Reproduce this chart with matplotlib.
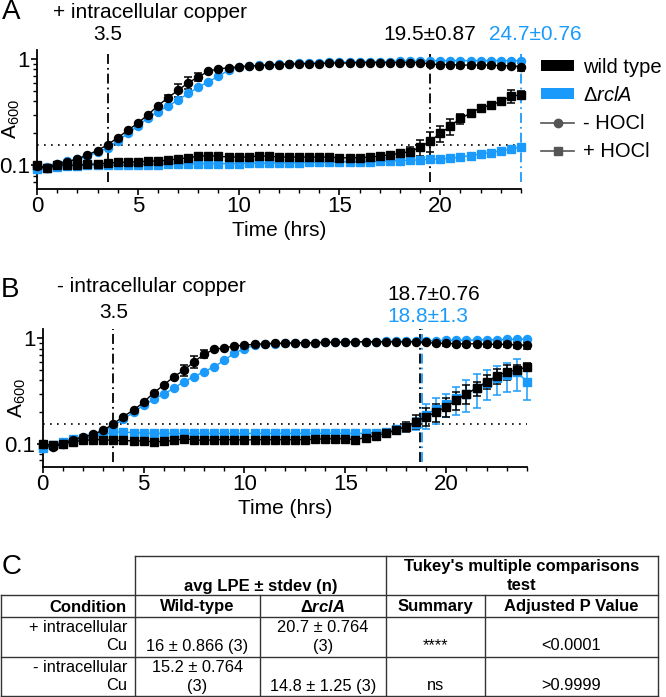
import numpy as np
import matplotlib
matplotlib.use('Agg')
import matplotlib.pyplot as plt
from matplotlib.patches import Patch
from matplotlib.lines import Line2D
from matplotlib.ticker import FixedLocator, FixedFormatter, NullFormatter
import matplotlib.transforms as mtransforms

plt.rcParams['font.family'] = ['Liberation Sans', 'DejaVu Sans']
plt.rcParams['mathtext.fontset'] = 'custom'
plt.rcParams['mathtext.rm'] = 'Liberation Sans'
plt.rcParams['mathtext.it'] = 'Liberation Sans:italic'
plt.rcParams['mathtext.bf'] = 'Liberation Sans:bold'
plt.rcParams['mathtext.bfit'] = 'Liberation Sans:bold:italic'

# ---------------- data ----------------
time_hrs = [0, 0.5, 1, 1.5, 2, 2.5, 3, 3.5, 4, 4.5,
            5, 5.5, 6, 6.5, 7, 7.5, 8, 8.5, 9, 9.5,
            10, 10.5, 11, 11.5, 12, 12.5, 13, 13.5, 14, 14.5,
            15, 15.5, 16, 16.5, 17, 17.5, 18, 18.5, 19, 19.5,
            20, 20.5, 21, 21.5, 22, 22.5, 23, 23.5, 24]

# Panel A: + intracellular copper
a_wt_neg = [0.098, 0.095, 0.103, 0.108, 0.115, 0.126, 0.138, 0.157, 0.182, 0.214,
            0.25, 0.30, 0.365, 0.435, 0.51, 0.60, 0.68, 0.77, 0.81, 0.83,
            0.85, 0.86, 0.87, 0.88, 0.89, 0.90, 0.90, 0.91, 0.91, 0.92,
            0.92, 0.92, 0.93, 0.93, 0.93, 0.93, 0.93, 0.93, 0.93, 0.90,
            0.89, 0.89, 0.88, 0.88, 0.88, 0.88, 0.87, 0.87, 0.85]
a_wt_neg_err = [0, 0, 0, 0, 0, 0, 0, 0, 0, 0,
                0, 0, 0, 0.03, 0.07, 0.08, 0.06, 0, 0, 0,
                0, 0, 0, 0, 0, 0, 0, 0, 0, 0,
                0, 0, 0, 0, 0, 0, 0, 0, 0, 0.04,
                0.05, 0.05, 0.05, 0.05, 0.05, 0.05, 0.05, 0.05, 0.08]
a_rcl_neg = [0.093, 0.097, 0.104, 0.109, 0.114, 0.122, 0.133, 0.146, 0.17, 0.2,
             0.235, 0.28, 0.32, 0.363, 0.413, 0.477, 0.545, 0.615, 0.69, 0.79,
             0.84, 0.86, 0.88, 0.89, 0.90, 0.91, 0.92, 0.93, 0.93, 0.94,
             0.94, 0.94, 0.95, 0.95, 0.95, 0.95, 0.96, 0.96, 0.96, 0.97,
             0.97, 0.97, 0.97, 0.97, 0.97, 0.97, 0.97, 0.97, 0.97]
a_rcl_neg_err = [0] * 49
a_wt_pos = [0.1, 0.095, 0.1, 0.102, 0.1, 0.103, 0.103, 0.105, 0.107, 0.107,
            0.108, 0.11, 0.11, 0.112, 0.115, 0.118, 0.122, 0.124, 0.122, 0.12,
            0.12, 0.12, 0.123, 0.122, 0.12, 0.12, 0.12, 0.12, 0.12, 0.12,
            0.118, 0.118, 0.118, 0.12, 0.122, 0.126, 0.13, 0.135, 0.148, 0.17,
            0.2, 0.235, 0.277, 0.31, 0.35, 0.37, 0.40, 0.45, 0.46]
a_wt_pos_err = [0, 0, 0, 0, 0, 0, 0, 0, 0, 0,
                0, 0, 0, 0, 0, 0, 0, 0, 0, 0,
                0, 0, 0, 0, 0, 0, 0, 0, 0, 0,
                0, 0, 0, 0, 0, 0, 0.01, 0.015, 0.025, 0.035,
                0.035, 0.04, 0.03, 0.02, 0.015, 0.015, 0.02, 0.06, 0.04]
a_rcl_pos = [0.093, 0.095, 0.097, 0.098, 0.099, 0.1, 0.1, 0.1, 0.101, 0.101,
             0.102, 0.102, 0.102, 0.103, 0.103, 0.103, 0.104, 0.104, 0.104, 0.104,
             0.104, 0.105, 0.105, 0.105, 0.106, 0.106, 0.106, 0.107, 0.107, 0.107,
             0.108, 0.108, 0.108, 0.108, 0.109, 0.11, 0.111, 0.112, 0.113, 0.114,
             0.115, 0.117, 0.12, 0.124, 0.128, 0.132, 0.137, 0.142, 0.15]
a_rcl_pos_err = [0] * 49

# Panel B: - intracellular copper
b_wt_neg = [0.1, 0.093, 0.1, 0.11, 0.116, 0.124, 0.135, 0.155, 0.182, 0.21,
            0.248, 0.306, 0.362, 0.434, 0.50, 0.60, 0.71, 0.787, 0.816, 0.846,
            0.865, 0.88, 0.89, 0.9, 0.9, 0.91, 0.91, 0.91, 0.92, 0.92,
            0.92, 0.93, 0.93, 0.93, 0.93, 0.93, 0.93, 0.93, 0.92, 0.9,
            0.9, 0.89, 0.89, 0.89, 0.88, 0.88, 0.88, 0.87, 0.86]
b_wt_neg_err = [0, 0, 0, 0, 0, 0, 0, 0, 0, 0,
                0, 0, 0, 0, 0.06, 0.08, 0.06, 0, 0, 0,
                0, 0, 0, 0, 0, 0, 0, 0, 0, 0,
                0, 0, 0, 0, 0, 0, 0, 0, 0.03, 0.04,
                0.05, 0.05, 0.05, 0.05, 0.05, 0.05, 0.05, 0.05, 0.06]
b_rcl_neg = [0.091, 0.096, 0.103, 0.11, 0.115, 0.122, 0.132, 0.148, 0.172, 0.2,
             0.234, 0.265, 0.298, 0.337, 0.39, 0.434, 0.484, 0.54, 0.62, 0.73,
             0.8, 0.86, 0.88, 0.89, 0.9, 0.9, 0.91, 0.91, 0.92, 0.92,
             0.93, 0.93, 0.93, 0.93, 0.94, 0.94, 0.94, 0.94, 0.95, 0.95,
             0.96, 0.96, 0.96, 0.97, 0.97, 0.97, 0.98, 0.98, 0.99]
b_rcl_neg_err = [0] * 49
b_wt_pos = [0.1, 0.098, 0.1, 0.105, 0.108, 0.11, 0.11, 0.108, 0.108, 0.107,
            0.107, 0.105, 0.106, 0.108, 0.112, 0.11, 0.108, 0.11, 0.11, 0.11,
            0.109, 0.11, 0.11, 0.11, 0.11, 0.11, 0.11, 0.111, 0.112, 0.112,
            0.112, 0.11, 0.115, 0.12, 0.126, 0.135, 0.146, 0.163, 0.182, 0.2,
            0.226, 0.26, 0.30, 0.337, 0.39, 0.44, 0.484, 0.50, 0.54]
b_wt_pos_err = [0, 0, 0, 0, 0, 0, 0.008, 0.008, 0.008, 0.008,
                0.008, 0.008, 0.008, 0.008, 0.008, 0.008, 0.008, 0, 0, 0,
                0, 0, 0, 0, 0, 0, 0, 0, 0, 0,
                0, 0, 0, 0, 0, 0, 0.015, 0.025, 0.035, 0.04,
                0.045, 0.05, 0.06, 0.05, 0.06, 0.07, 0.08, 0.06, 0.05]
b_rcl_pos = [0.091, 0.098, 0.105, 0.112, 0.115, 0.118, 0.122, 0.13, 0.13, 0.128,
             0.127, 0.126, 0.126, 0.126, 0.126, 0.126, 0.126, 0.126, 0.126, 0.126,
             0.126, 0.126, 0.126, 0.126, 0.126, 0.126, 0.126, 0.126, 0.126, 0.126,
             0.126, 0.126, 0.126, 0.128, 0.13, 0.138, 0.146, 0.155, 0.19, 0.215,
             0.24, 0.27, 0.30, 0.34, 0.38, 0.42, 0.45, 0.48, 0.39]
b_rcl_pos_err = [0, 0, 0, 0, 0, 0, 0, 0, 0, 0,
                 0, 0, 0, 0, 0, 0, 0, 0, 0, 0,
                 0, 0, 0, 0, 0, 0, 0, 0, 0, 0,
                 0, 0, 0, 0, 0, 0, 0, 0.02, 0.05, 0.06,
                 0.06, 0.08, 0.1, 0.12, 0.12, 0.13, 0.14, 0.16, 0.13]

threshold = 0.155
a_lpe_lines = [(3.5, 'k'), (19.5, 'k'), (24.0, 'blue')]
b_lpe_lines = [(3.5, 'k'), (18.7, 'k'), (18.8, 'blue')]

table_header1 = ["avg LPE \u00b1 stdev (n)", "Tukey's multiple comparisons", "test"]
table_header2 = ["Condition", "Wild-type", "\u0394$\\mathbfit{rclA}$", "Summary", "Adjusted P Value"]
row1 = [["+ intracellular", "Cu"], ["", "16 \u00b1 0.866 (3)"], ["20.7 \u00b1 0.764", "(3)"], ["", "****"], ["", "<0.0001"]]
row2 = [["- intracellular", "Cu"], ["15.2 \u00b1 0.764", "(3)"], ["", "14.8 \u00b1 1.25 (3)"], ["", "ns"], ["", ">0.9999"]]

# ---------------- style ----------------
BLUE = '#1A9BFC'
BLACK = '#000000'
GRAY = '#555555'
W, H = 666, 697
fig = plt.figure(figsize=(W / 100, H / 100), dpi=100)

over = fig.add_axes([0, 0, 1, 1])
over.set_xlim(0, W)
over.set_ylim(H, 0)
over.axis('off')


def px_axes(l, t, r, b):
    return fig.add_axes([l / W, 1 - b / H, (r - l) / W, (b - t) / H])


DASHDOT = (0, (5.5, 2.2, 1.0, 2.2))


def draw_panel(ax, curves, ylim, lpe_lines, vline_ymin):
    for y, err, color, marker, ms in curves:
        y = np.asarray(y, float)
        err = np.asarray(err, float)
        t = np.asarray(time_hrs, float)
        idx = err > 0
        if idx.any():
            ax.errorbar(t[idx], y[idx], yerr=err[idx], fmt='none', ecolor=color,
                        elinewidth=1.1, capsize=3, capthick=1.1, clip_on=False, zorder=3)
        ax.plot(t, y, color=color, lw=1.0, marker=marker, ms=ms,
                clip_on=False, zorder=4)
    ax.set_yscale('log')
    ax.set_xlim(0, 24)
    ax.set_ylim(*ylim)
    ax.axhline(threshold, color='k', lw=1.2, ls=(0, (1, 3.2)), zorder=1)
    for x, c in lpe_lines:
        ax.axvline(x, ymin=vline_ymin, ymax=1.0, color=(BLUE if c == 'blue' else 'k'),
                   lw=1.3, ls=DASHDOT, zorder=2, clip_on=False)
    for s in ['top', 'right']:
        ax.spines[s].set_visible(False)
    for s in ['left', 'bottom']:
        ax.spines[s].set_linewidth(1.3)
    ax.xaxis.set_major_locator(FixedLocator([0, 5, 10, 15, 20]))
    ax.xaxis.set_minor_locator(FixedLocator(list(range(0, 25))))
    ax.yaxis.set_major_locator(FixedLocator([0.1, 1]))
    ax.yaxis.set_major_formatter(FixedFormatter(['0.1', '1']))
    ax.yaxis.set_minor_locator(FixedLocator([0.07, 0.08, 0.09, 0.2, 0.3, 0.4, 0.5, 0.6, 0.7, 0.8, 0.9]))
    ax.yaxis.set_minor_formatter(NullFormatter())
    ax.tick_params(which='major', length=4.2, width=1.2, labelsize=16, pad=1.0)
    ax.tick_params(which='minor', length=2.8, width=1.0)
    ax.set_xlabel('Time (hrs)', fontsize=15, labelpad=3)
    ax.set_ylabel('$\\mathregular{A_{600}}$', fontsize=15)
    ax.yaxis.set_label_coords(-0.031, 0.5)
    ax.patch.set_alpha(0)


axA = px_axes(37, 50, 521, 189)
draw_panel(axA,
           [(a_rcl_neg, a_rcl_neg_err, BLUE, 'o', 5.8),
            (a_rcl_pos, a_rcl_pos_err, BLUE, 's', 5.4),
            (a_wt_neg, a_wt_neg_err, BLACK, 'o', 5.8),
            (a_wt_pos, a_wt_pos_err, BLACK, 's', 5.4)],
           (0.06, 1.22), a_lpe_lines, 0.05)

axB = px_axes(42.7, 329.3, 527, 466.7)
draw_panel(axB,
           [(b_rcl_neg, b_rcl_neg_err, BLUE, 'o', 5.8),
            (b_rcl_pos, b_rcl_pos_err, BLUE, 's', 5.4),
            (b_wt_neg, b_wt_neg_err, BLACK, 'o', 5.8),
            (b_wt_pos, b_wt_pos_err, BLACK, 's', 5.4)],
           (0.061, 1.22), b_lpe_lines, 0.035)

trA = mtransforms.blended_transform_factory(axA.transData, axA.transAxes)
trB = mtransforms.blended_transform_factory(axB.transData, axB.transAxes)
axA.text(3.5, 1.108, '3.5', transform=trA, ha='center', va='center', fontsize=15)
axA.text(19.5, 1.108, '19.5\u00b10.87', transform=trA, ha='center', va='center', fontsize=15)
axA.text(24.7, 1.108, '24.7\u00b10.76', transform=trA, ha='center', va='center', fontsize=15, color=BLUE)
axB.text(3.5, 1.119, '3.5', transform=trB, ha='center', va='center', fontsize=15)
axB.text(17.1, 1.25, '18.7\u00b10.76', transform=trB, ha='left', va='center', fontsize=15)
axB.text(17.1, 1.092, '18.8\u00b11.3', transform=trB, ha='left', va='center', fontsize=15, color=BLUE)

# panel letters & titles
over.text(2, 12, 'A', fontsize=20, ha='left', va='center')
over.text(53, 12, '+ intracellular copper', fontsize=15, ha='left', va='center')
over.text(1, 290, 'B', fontsize=20, ha='left', va='center')
over.text(57, 287, '- intracellular copper', fontsize=15, ha='left', va='center')
over.text(2, 567, 'C', fontsize=20, ha='left', va='center')

# legend
handles = [Patch(facecolor=BLACK, edgecolor='none'),
           Patch(facecolor=BLUE, edgecolor='none'),
           Line2D([], [], color=GRAY, lw=1.2, marker='o', ms=6),
           Line2D([], [], color=GRAY, lw=1.2, marker='s', ms=5.5)]
labels = ['wild type', '\u0394$\\mathit{rclA}$', '- HOCl', '+ HOCl']
fig.legend(handles, labels, loc='upper left', bbox_to_anchor=(541 / W, 1 - 58 / H),
           frameon=False, fontsize=14.5, handlelength=1.65, handleheight=0.45,
           handletextpad=0.45, labelspacing=0.45, borderpad=0, borderaxespad=0)

# ---------------- table ----------------
LC = '#333333'
rows = [556, 595, 617, 657, 696]
lw_t = 1.0
over.plot([135, 658], [556, 556], color=LC, lw=lw_t)
for yy in rows[1:]:
    over.plot([1, 658], [yy, yy], color=LC, lw=lw_t)
for xx in [1, 260, 485]:
    over.plot([xx, xx], [595, 696], color=LC, lw=lw_t)
for xx in [135, 386, 658]:
    over.plot([xx, xx], [556, 696], color=LC, lw=lw_t)

FS_B = 12
FS_R = 11.8
over.text((135 + 386) / 2, 587, table_header1[0], fontsize=FS_B, fontweight='bold', ha='center', va='center')
over.text((386 + 658) / 2, 566, table_header1[1], fontsize=FS_B, fontweight='bold', ha='center', va='center')
over.text((386 + 658) / 2, 585, table_header1[2], fontsize=FS_B, fontweight='bold', ha='center', va='center')

centers = [None, (135 + 260) / 2, (260 + 386) / 2, (386 + 485) / 2, (485 + 658) / 2]
hy = 607
over.text(127, hy, table_header2[0], fontsize=FS_B, fontweight='bold', ha='right', va='center')
for j in range(1, 5):
    over.text(centers[j], hy, table_header2[j], fontsize=FS_B, fontweight='bold', ha='center', va='center')

for row, (y1, y2) in [(row1, (628, 646)), (row2, (667, 686))]:
    over.text(127, y1, row[0][0], fontsize=FS_R, ha='right', va='center')
    over.text(127, y2, row[0][1], fontsize=FS_R, ha='right', va='center')
    for j in range(1, 5):
        l1, l2 = row[j]
        if l1:
            over.text(centers[j], y1, l1, fontsize=FS_R, ha='center', va='center')
        if l2:
            over.text(centers[j], y2, l2, fontsize=FS_R, ha='center', va='center')

fig.savefig('out.png', dpi=100)
